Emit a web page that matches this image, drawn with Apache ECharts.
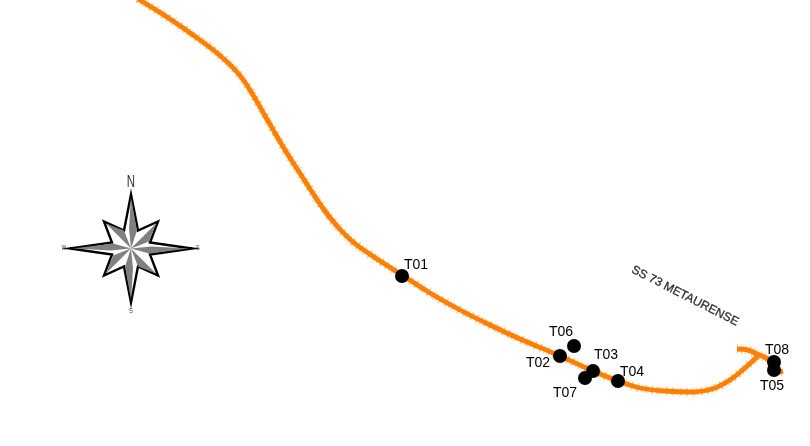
<!DOCTYPE html>
<html><head><meta charset="utf-8">
<style>html,body{margin:0;padding:0;background:#fff}#c{width:810px;height:446px}</style>
<script src="https://cdn.jsdelivr.net/npm/echarts@6/dist/echarts.min.js"></script>
</head><body><div id="c"></div>
<script>
const roadMain = [[138,-1],[167,17],[193,35],[217,53],[237,72],[250,90],[268,121],[285,150],[303,178],[322,207],[337,226],[353,242],[371,255],[402,275],[430,293],[460,310],[490,325],[520,339],[560,356],[593,371],[618,381],[640,388],[665,391],[690,392],[712,389],[730,380],[745,368],[759,355]];
const roadBranch = [[737,349],[748,350],[757,354],[766,358],[774,364],[778,372],[783,371]];
const turbineNames = ['T01','T02','T03','T04','T05','T06','T07','T08'];
const turbineX = [402,560,593,618,774,574,585,774];
const turbineY = [276,356,371,381,370,346,378,362];
const labelDx = [14,-22,13,14,-2,-13,-20,3];
const labelDy = [-11,7,-16,-9,16,-14,15,-12];
const roadName = 'SS 73 METAURENSE';
const roadNameAt = [685,296];
const compassAt = [131,248.5];
const compassLetters = ['N','E','S','W'];

const chart = echarts.init(document.getElementById('c'));
const lineSeries = (d, w, col, dash, op) => ({type:'line',data:d,showSymbol:false,symbol:'none',smooth:0.35,silent:true,animation:false,
  lineStyle:{width:w,color:col,type:dash||'solid',opacity:op==null?1:op,cap:'butt'},z:2});

function star(api){
  const c = api.coord(compassAt);
  const P = (x,y)=>[c[0]+x,c[1]+y];
  const long = [[0,-54],[61,0],[0,54],[-61,0]];
  const diag = [[27,-27],[27,27],[-27,27],[-27,-27]];
  const notch = [[7,-18],[19,-6],[19,6],[7,18],[-7,18],[-19,6],[-19,-6],[-7,-18]];
  const outline = [];
  for(let i=0;i<4;i++){
    outline.push(P(...long[i]),P(...notch[i*2]),P(...diag[i]),P(...notch[i*2+1]));
  }
  const kids=[{type:'polygon',shape:{points:outline},style:{fill:'#fff',stroke:'#000',lineWidth:2.4,lineJoin:'miter'}}];
  const gray='#808080';
  const poly=(pts)=>kids.push({type:'polygon',shape:{points:[P(0,0),...pts.map(p=>P(...p))]},style:{fill:gray}});
  poly([[-2,-20],[0,-51],[6,-18]]);
  poly([[20,-2],[58,0],[18,5]]);
  poly([[2,20],[0,51],[-6,18]]);
  poly([[-20,2],[-58,0],[-18,-5]]);
  poly([[25,-25],[18,-7]]); poly([[25,25],[7,18]]); poly([[-25,25],[-18,7]]); poly([[-25,-25],[-7,-18]]);
  const tx=(s,x,y,fs)=>kids.push({type:'text',x:c[0]+x,y:c[1]+y,scaleX:0.72,style:{text:s,x:0,y:0,align:'center',verticalAlign:'middle',font:fs+'px "Liberation Sans"',fill:'#333'}});
  tx(compassLetters[0],0,-66,16);tx(compassLetters[1],67,0,7);tx(compassLetters[2],0,62,8);tx(compassLetters[3],-67,0,7);
  return {type:'group',children:kids};
}

chart.setOption({
  animation:false,
  backgroundColor:'#fff',
  grid:{left:0,right:0,top:0,bottom:0},
  xAxis:{type:'value',min:0,max:810,show:false},
  yAxis:{type:'value',min:0,max:446,inverse:true,show:false},
  series:[
    lineSeries(roadMain,9,'#ffb066',[1,6],0.7),
    lineSeries(roadBranch,9,'#ffb066',[1,3],0.8),
    lineSeries(roadMain,7,'#ff9a33',[1,4],0.8),
    lineSeries(roadMain,4.8,'#ff8000'),
    lineSeries(roadBranch,5,'#ff8000'),
    {type:'scatter',symbolSize:14,itemStyle:{color:'#000',opacity:1},z:5,
     data:turbineNames.map((n,i)=>({name:n,value:[turbineX[i],turbineY[i]],
       label:{show:true,formatter:n,position:[7+labelDx[i],7+labelDy[i]],align:'center',verticalAlign:'middle',
         fontFamily:'"Liberation Sans"',fontSize:14,color:'#000'}}))},
    {type:'scatter',symbolSize:0,silent:true,z:4,
     data:[{name:roadName,value:roadNameAt,label:{show:true,formatter:roadName,position:'inside',rotate:-27,
       fontFamily:'"Liberation Sans"',fontSize:12,color:'#000',textBorderColor:'#000',textBorderWidth:0.3}}]},
    {type:'custom',renderItem:(p,api)=>star(api),data:[compassAt],silent:true,z:3}
  ]
});
</script></body></html>
